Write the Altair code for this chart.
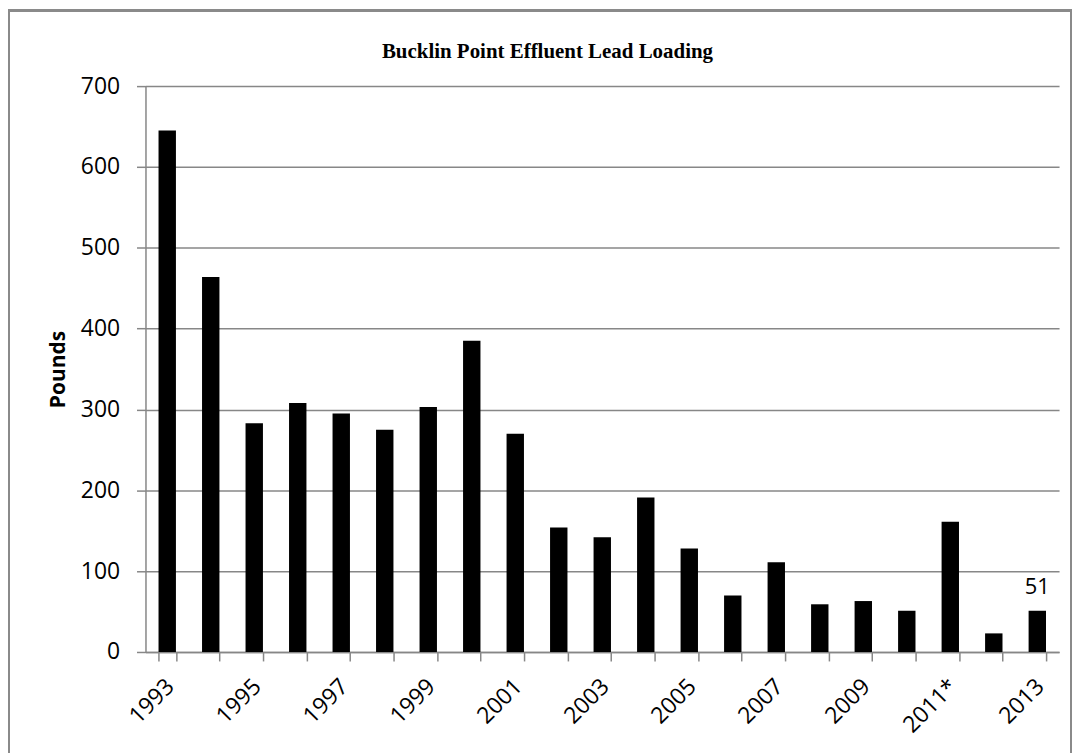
import altair as alt
import pandas as pd

years = ["1993", "1994", "1995", "1996", "1997", "1998", "1999", "2000", "2001",
         "2002", "2003", "2004", "2005", "2006", "2007", "2008", "2009", "2010",
         "2011*", "2012", "2013"]
pounds = [645, 464, 283, 308, 295, 275, 303, 385, 270, 154, 142, 191, 128, 70,
          111, 59, 63, 51, 161, 23, 51]
label_years = ["2013"]
y_ticks = [0, 100, 200, 300, 400, 500, 600, 700]

df = pd.DataFrame({"year": years, "pounds": pounds})
df["label"] = [str(v) if y in label_years else "" for y, v in zip(years, pounds)]

GRAY = "#878787"
FONT = "Open Sans"

x_enc = alt.X(
    "year:N", sort=None, title=None,
    scale=alt.Scale(paddingInner=0.6, paddingOuter=0.3),
    axis=alt.Axis(
        labelAngle=-45, labelFont=FONT, labelFontSize=23, labelColor="#000000",
        labelPadding=14, labelOffset=-5, tickBand="extent", tickSize=9, tickColor=GRAY,
        domainColor=GRAY, domainWidth=1.5, tickWidth=1.5,
        labelExpr="toNumber(slice(datum.label, 0, 4)) % 2 == 1 ? datum.label : ''",
    ),
)
y_enc = alt.Y(
    "pounds:Q",
    scale=alt.Scale(domain=[0, 700], nice=False),
    axis=alt.Axis(
        values=y_ticks, title="Pounds", titleFont=FONT, titleFontSize=21,
        titleFontWeight="bold", titleColor="#000000", titleAngle=-90,
        titleX=-81, titleY=284, titleAlign="center", titleBaseline="alphabetic",
        labelFont=FONT, labelFontSize=23, labelColor="#000000", labelPadding=17,
        tickSize=9, tickColor=GRAY, tickWidth=1.5, domainColor=GRAY, domainWidth=1.5,
        grid=True, gridColor=GRAY, gridWidth=1.5,
    ),
)

bars = alt.Chart(df).mark_bar(color="#000000").encode(x=x_enc, y=y_enc)
labels = alt.Chart(df).mark_text(
    font=FONT, fontSize=22, color="#000000", baseline="alphabetic", dy=-17
).encode(x=alt.X("year:N", sort=None), y="pounds:Q", text="label:N")

frame = alt.Chart(df).mark_rect(
    fill=None, stroke="#8a8a8a", strokeWidth=2, clip=False
).encode(
    x=alt.value(-137), x2=alt.value(929), y=alt.value(-76), y2=alt.value(720)
)

chart = alt.layer(frame, bars, labels).properties(
    width=917, height=568,
    autosize=alt.AutoSizeParams(type="none"),
    padding={"left": 138, "top": 77, "right": 13, "bottom": 100},
    title=alt.TitleParams(
        "Bucklin Point Effluent Lead Loading", font="Liberation Serif",
        fontSize=21, fontWeight="bold", color="#000000", anchor="middle",
        frame="group", dx=-55, offset=-70, baseline="alphabetic",
    ),
).configure_view(stroke=None)

chart.save("out.html", embed_options={"renderer": "svg", "actions": False})
